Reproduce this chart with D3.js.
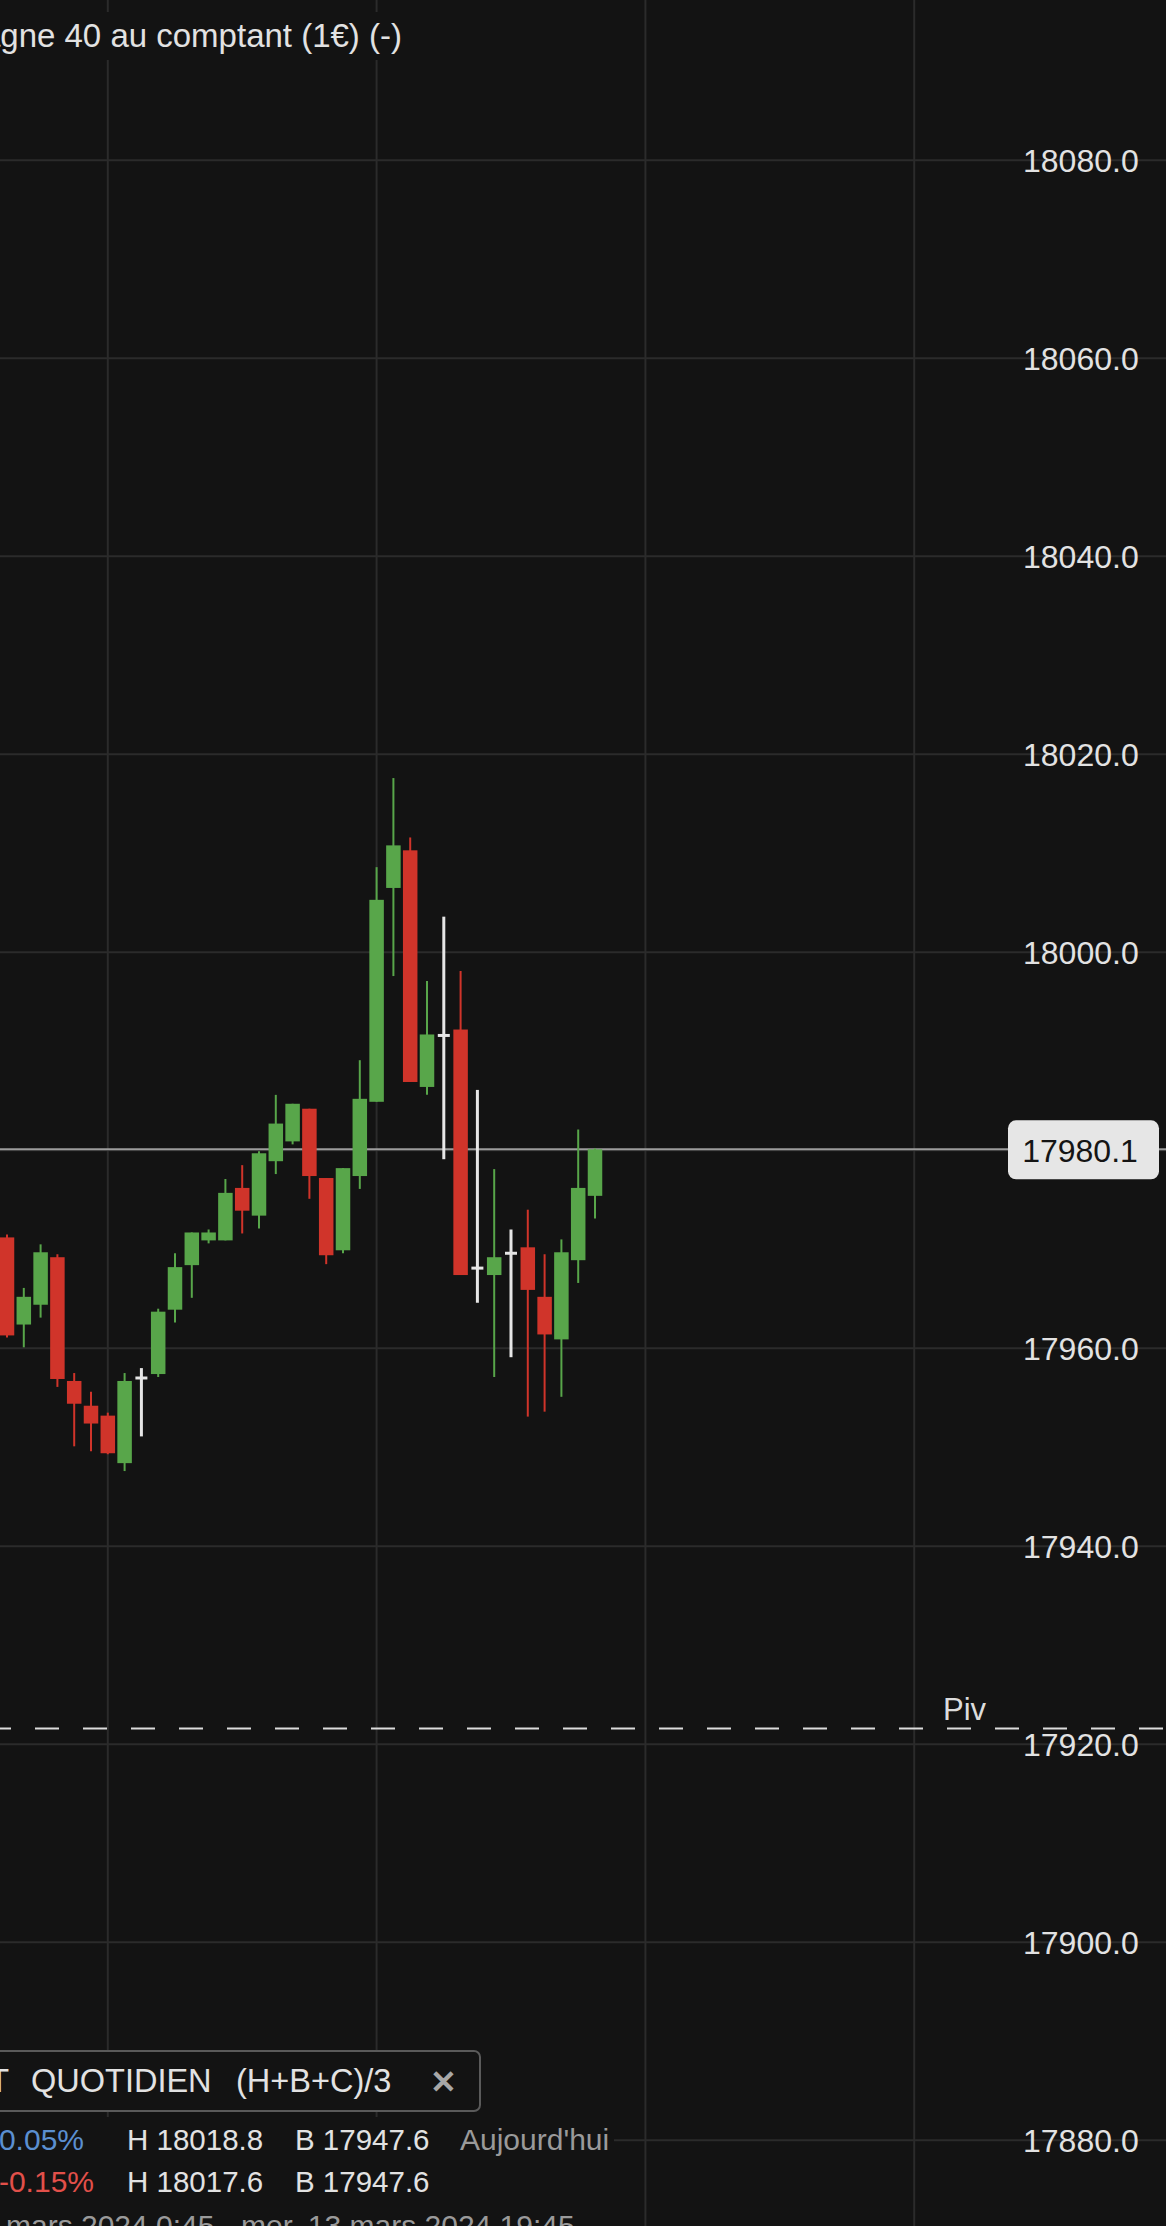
<!DOCTYPE html>
<html>
<head>
<meta charset="utf-8">
<script src="https://cdn.jsdelivr.net/npm/d3@7"></script>
<style>
  html, body { margin: 0; padding: 0; background: #131313; }
  svg { display: block; }
  text { font-family: "Liberation Sans", Arial, sans-serif; }
</style>
</head>
<body>
<script>
var width = 1166;
var height = 2226;

// 15 min candles, index 0 = first visible one
var opens  = [17971.2, 17962.4, 17964.4, 17969.2, 17956.7, 17954.2, 17953.2, 17948.4, 17957.0, 17957.4,
              17963.9, 17968.4, 17970.9, 17970.9, 17976.2, 17973.4, 17978.9, 17980.9, 17984.2, 17977.2,
              17969.9, 17977.4, 17984.9, 18006.5, 18010.3, 17986.4, 17991.6, 17992.2, 17968.1, 17967.4,
              17969.6, 17970.2, 17965.2, 17960.9, 17968.9, 17975.4];
var highs  = [17971.5, 17966.1, 17970.5, 17969.5, 17957.5, 17955.6, 17953.5, 17957.5, 17958.0, 17964.0,
              17969.6, 17971.7, 17972.0, 17977.1, 17978.5, 17979.9, 17985.6, 17984.7, 17984.2, 17977.2,
              17978.2, 17989.1, 18008.6, 18017.6, 18011.6, 17997.1, 18003.6, 17998.1, 17986.1, 17978.1,
              17972.0, 17974.0, 17969.5, 17971.0, 17982.1, 17980.2];
var lows   = [17961.1, 17960.1, 17963.1, 17956.1, 17950.1, 17949.6, 17949.3, 17947.6, 17951.1, 17957.1,
              17962.6, 17965.1, 17970.6, 17970.9, 17971.6, 17972.1, 17977.6, 17980.6, 17975.1, 17968.5,
              17969.6, 17976.1, 17984.9, 17997.6, 17986.9, 17985.6, 17979.1, 17967.4, 17964.6, 17957.1,
              17959.1, 17953.1, 17953.6, 17955.1, 17966.6, 17973.1];
var closes = [17961.3, 17965.2, 17969.7, 17956.9, 17954.4, 17952.4, 17949.4, 17956.7, 17957.0, 17963.7,
              17968.2, 17971.7, 17971.7, 17975.7, 17973.9, 17979.7, 17982.7, 17984.7, 17977.4, 17969.4,
              17978.2, 17985.2, 18005.3, 18010.8, 17986.9, 17991.7, 17991.6, 17967.4, 17968.1, 17969.2,
              17969.6, 17965.9, 17961.4, 17969.7, 17976.2, 17980.1];

var priceTicks = [17880, 17900, 17920, 17940, 17960, 17980, 18000, 18020, 18040, 18060, 18080];
var timeGridIdx = [6, 22, 38, 54];
var lastPrice = 17980.1;
var pivot = 17921.6;

var candles = opens.map(function(o, i) {
  return {i: i, o: o, h: highs[i], l: lows[i], c: closes[i]};
});

var y = d3.scaleLinear().domain([17880, 18080]).range([2140.3, 160.3]);
var x = d3.scaleLinear().domain([0, 35]).range([7, 595]);
var fmt = d3.format(".1f");

var green = "#58a64a", red = "#d0342a", white = "#e6e6e6";
function col(d) { return d.c > d.o ? green : (d.c < d.o ? red : white); }

var svg = d3.select("body").append("svg")
            .attr("width", width)
            .attr("height", height);

svg.append("rect").attr("width", width).attr("height", height).attr("fill", "#131313");

// grid
svg.append("g").selectAll("line")
   .data(priceTicks).enter().append("line")
   .attr("x1", 0).attr("x2", width)
   .attr("y1", function(d){ return y(d); }).attr("y2", function(d){ return y(d); })
   .attr("stroke", "#2b2b2b").attr("stroke-width", 2);

svg.append("g").selectAll("line")
   .data(timeGridIdx).enter().append("line")
   .attr("x1", function(d){ return x(d); }).attr("x2", function(d){ return x(d); })
   .attr("y1", 0).attr("y2", height)
   .attr("stroke", "#2b2b2b").attr("stroke-width", 2);

// price labels on the right
svg.append("g").selectAll("text")
   .data(priceTicks).enter().append("text")
   .attr("x", 1023)
   .attr("y", function(d){ return y(d) + 11.5; })
   .attr("font-size", 32)
   .attr("fill", "#e2e2e2")
   .text(function(d){ return fmt(d); });

// pivot line
svg.append("line")
   .attr("x1", 0).attr("x2", width)
   .attr("y1", y(pivot)).attr("y2", y(pivot))
   .attr("stroke", "#dcdcdc").attr("stroke-width", 2)
   .attr("stroke-dasharray", "24,24").attr("stroke-dashoffset", 13);
svg.append("text")
   .attr("x", 943).attr("y", y(pivot) - 8)
   .attr("font-size", 31).attr("fill", "#dcdcdc")
   .text("Piv");

// last price line
svg.append("line")
   .attr("x1", 0).attr("x2", width)
   .attr("y1", y(lastPrice)).attr("y2", y(lastPrice))
   .attr("stroke", "#9c9c9c").attr("stroke-width", 2);

// candles
var g = svg.append("g");
g.selectAll("line.wick")
 .data(candles).enter().append("line")
 .attr("class", "wick")
 .attr("x1", function(d){ return x(d.i); }).attr("x2", function(d){ return x(d.i); })
 .attr("y1", function(d){ return y(d.h); }).attr("y2", function(d){ return y(d.l); })
 .attr("stroke", col)
 .attr("stroke-width", function(d){ return d.o === d.c ? 3 : 2; });

g.selectAll("rect.body")
 .data(candles.filter(function(d){ return d.o !== d.c; })).enter().append("rect")
 .attr("class", "body")
 .attr("x", function(d){ return x(d.i) - 7.25; })
 .attr("width", 14.5)
 .attr("y", function(d){ return y(Math.max(d.o, d.c)); })
 .attr("height", function(d){ return Math.max(2, Math.abs(y(d.o) - y(d.c))); })
 .attr("fill", col);

g.selectAll("line.doji")
 .data(candles.filter(function(d){ return d.o === d.c; })).enter().append("line")
 .attr("class", "doji")
 .attr("x1", function(d){ return x(d.i) - 6; }).attr("x2", function(d){ return x(d.i) + 6; })
 .attr("y1", function(d){ return y(d.o); }).attr("y2", function(d){ return y(d.o); })
 .attr("stroke", white).attr("stroke-width", 3);

// last price tag
svg.append("rect")
   .attr("x", 1008).attr("y", y(lastPrice) - 29)
   .attr("width", 151).attr("height", 59).attr("rx", 8)
   .attr("fill", "#e6e6e6");
svg.append("text")
   .attr("x", 1080).attr("y", y(lastPrice) + 12.5)
   .attr("text-anchor", "middle")
   .attr("font-size", 32).attr("fill", "#151515")
   .text(fmt(lastPrice));

// title (cut at the left edge like the original screen)
svg.append("rect").attr("x", 0).attr("y", 12).attr("width", 410).attr("height", 48).attr("fill", "#131313");
svg.append("text")
   .attr("x", 402).attr("y", 47)
   .attr("text-anchor", "end")
   .attr("font-size", 33).attr("fill", "#e2e2e2")
   .text("Allemagne 40 au comptant (1€) (-)");

// legend at the bottom
var lg = svg.append("g");
lg.append("rect").attr("x", -10).attr("y", 2051).attr("width", 490).attr("height", 60).attr("rx", 6)
  .attr("fill", "#131313").attr("stroke", "#5a5a5a").attr("stroke-width", 2);
lg.append("rect").attr("x", 0).attr("y", 2117).attr("width", 614).attr("height", 109).attr("fill", "#131313");

lg.append("text").attr("x", 9).attr("y", 2092).attr("text-anchor", "end")
  .attr("font-size", 32.5).attr("fill", "#e2e2e2").text("POINT");
lg.append("text").attr("x", 31).attr("y", 2092)
  .attr("font-size", 32.5).attr("fill", "#e2e2e2").text("QUOTIDIEN");
lg.append("text").attr("x", 236).attr("y", 2092)
  .attr("font-size", 32.5).attr("fill", "#e2e2e2").text("(H+B+C)/3");
lg.append("text").attr("x", 443).attr("y", 2093).attr("text-anchor", "middle")
  .attr("font-family", "DejaVu Sans").attr("font-weight", "bold")
  .attr("font-size", 32).attr("fill", "#a8a8a8").text("✕");

var rows = [
  {pct: "+0.05%", pctColor: "#5b8fd0", h: "H 18018.8", b: "B 17947.6", note: "Aujourd'hui", yb: 2150},
  {pct: "-0.15%", pctColor: "#e2504a", h: "H 18017.6", b: "B 17947.6", note: "", yb: 2192}
];
rows.forEach(function(r) {
  lg.append("text").attr("x", r.pct.charAt(0) === "+" ? 84 : 94).attr("y", r.yb).attr("text-anchor", "end")
    .attr("font-size", 30).attr("fill", r.pctColor).text(r.pct);
  lg.append("text").attr("x", 127).attr("y", r.yb)
    .attr("font-size", 29.5).attr("fill", "#e2e2e2").text(r.h);
  lg.append("text").attr("x", 295).attr("y", r.yb)
    .attr("font-size", 29.5).attr("fill", "#e2e2e2").text(r.b);
  lg.append("text").attr("x", 460).attr("y", r.yb)
    .attr("font-size", 30).attr("fill", "#9a9a9a").text(r.note);
});
lg.append("text").attr("x", 6).attr("y", 2236)
  .attr("font-size", 30).attr("fill", "#9a9a9a")
  .text("mars 2024 0:45 - mer. 13 mars 2024 19:45");
</script>
</body>
</html>
